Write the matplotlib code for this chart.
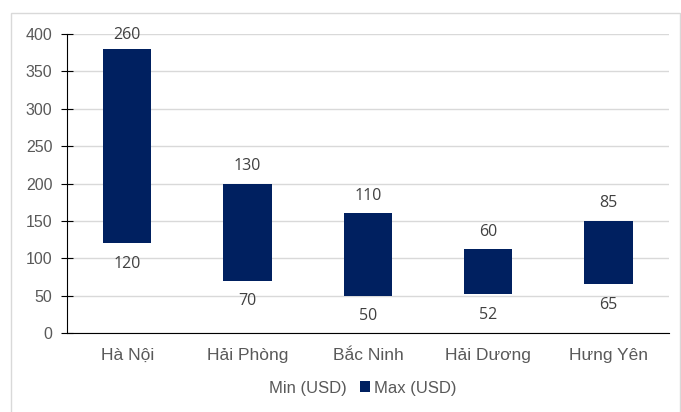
import matplotlib.pyplot as plt
from matplotlib.patches import Rectangle, Patch

# price range per city (USD)
cities = ['Hà Nội', 'Hải Phòng', 'Bắc Ninh', 'Hải Dương', 'Hưng Yên']
min_usd = [120, 70, 50, 52, 65]
range_usd = [260, 130, 110, 60, 85]   # max - min, shown above the bars

navy = '#002060'
grey_text = '#595959'

plt.rcParams['font.family'] = ['Liberation Sans', 'DejaVu Sans']

fig = plt.figure(figsize=(6.81, 4.12), dpi=100)
ax = fig.add_axes([0.0984, 0.1917, 0.8836, 0.7258])

x = range(len(cities))
ax.bar(x, min_usd, width=0.4, color='none')
bars = ax.bar(x, range_usd, bottom=min_usd, width=0.4, color=navy)

for i, b in enumerate(bars):
    top = min_usd[i] + range_usd[i]
    # Excel squeezes the top label when it hits the plot top
    off = 4 if top > 350 else 7
    ax.annotate(str(range_usd[i]), (b.get_x() + b.get_width() / 2, top),
                xytext=(0, off), textcoords='offset points', ha='center', va='bottom',
                fontsize=11.5, color='#404040', family=['Open Sans', 'DejaVu Sans'])
    ax.annotate(str(min_usd[i]), (b.get_x() + b.get_width() / 2, min_usd[i]),
                xytext=(0, -9), textcoords='offset points', ha='center', va='top',
                fontsize=11.5, color='#404040', family=['Open Sans', 'DejaVu Sans'])

ax.set_xlim(-0.5, len(cities) - 0.5)
ax.set_ylim(0, 400)
ax.set_yticks(range(0, 401, 50))
ax.set_xticks(list(x))
ax.set_xticklabels(cities)
ax.yaxis.grid(True, color='#D9D9D9', linewidth=1)
ax.set_axisbelow(True)
for s in ['top', 'right']:
    ax.spines[s].set_visible(False)
ax.spines['left'].set_color('black')
ax.spines['bottom'].set_color('black')
ax.tick_params(axis='y', direction='inout', length=9, colors='black', labelcolor=grey_text,
               labelsize=11.5, pad=6)
ax.tick_params(axis='x', length=0, labelcolor=grey_text, labelsize=12.5, pad=11)

handles = [Patch(facecolor='none', edgecolor='none', label='Min (USD)'),
           Patch(facecolor=navy, label='Max (USD)')]
fig.legend(handles=handles, loc='center', bbox_to_anchor=(0.522, 0.058), ncol=2,
           frameon=False, fontsize=12, labelcolor=grey_text, handlelength=0.6,
           handleheight=0.6, handletextpad=0.25, columnspacing=0.8)

# light outer border like the source chart
fig.patches.append(Rectangle((0.016, -0.01), 0.982, 0.978, transform=fig.transFigure,
                             fill=False, edgecolor='#D9D9D9', linewidth=1))

fig.savefig('out.png', dpi=100)
